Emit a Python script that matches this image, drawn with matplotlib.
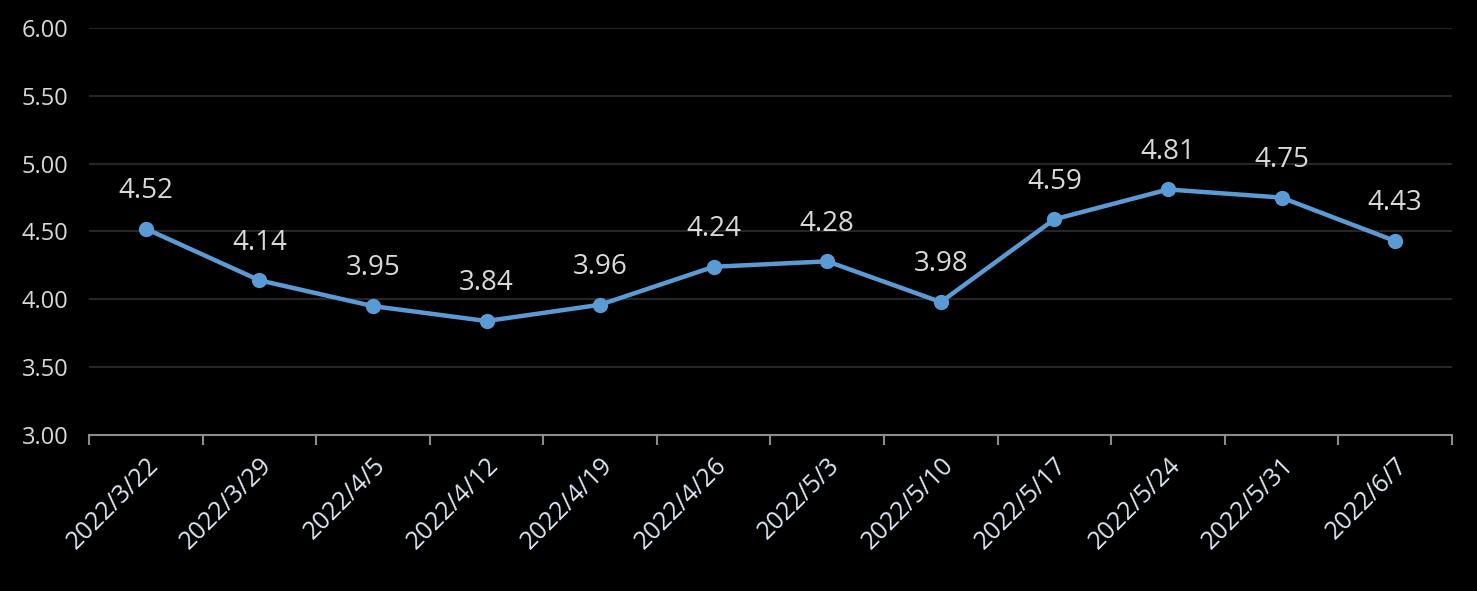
import numpy as np
import matplotlib.pyplot as plt

# data
dates = ['2022/3/22', '2022/3/29', '2022/4/5', '2022/4/12', '2022/4/19', '2022/4/26',
         '2022/5/3', '2022/5/10', '2022/5/17', '2022/5/24', '2022/5/31', '2022/6/7']
values = [4.52, 4.14, 3.95, 3.84, 3.96, 4.24, 4.28, 3.98, 4.59, 4.81, 4.75, 4.43]

plt.rcParams['font.family'] = ['Open Sans', 'DejaVu Sans']

fig = plt.figure(figsize=(14.77, 5.91), dpi=100, facecolor='black')
ax = fig.add_axes([0.0603, 0.264, 0.9227, 0.6886], facecolor='black')

x = np.arange(len(dates))
ax.plot(x, values, color='#5b9bd5', lw=3.2, marker='o', ms=10, zorder=3)
for xi, v in zip(x, values):
    ax.annotate(f'{v:.2f}', (xi, v), xytext=(0, 17), textcoords='offset points',
                ha='center', va='bottom', color='#d9d9d9', fontsize=20)

ax.set_xlim(-0.5, len(dates) - 0.5)
ax.set_ylim(3, 6)
ax.set_yticks(np.arange(3, 6.01, 0.5))
ax.set_yticklabels([f'{t:.2f}' for t in np.arange(3, 6.01, 0.5)])
ax.grid(axis='y', color='#262626', lw=1.5)
ax.set_axisbelow(True)

ax.set_xticks(x)
ax.set_xticklabels(dates, rotation=45, ha='right', rotation_mode='anchor')
ax.set_xticks(np.arange(-0.5, len(dates)), minor=True)
ax.tick_params(axis='x', which='major', length=0, pad=13, colors='#dbe6f3', labelsize=18)
ax.tick_params(axis='x', which='minor', length=7, width=1.5, color='#8c8c8c')
ax.tick_params(axis='y', length=0, pad=15, colors='#d9d9d9', labelsize=17)

for s in ['top', 'right', 'left']:
    ax.spines[s].set_visible(False)
ax.spines['bottom'].set_color('#8c8c8c')
ax.spines['bottom'].set_linewidth(1.5)

fig.savefig('out.png', dpi=100, facecolor='black')
